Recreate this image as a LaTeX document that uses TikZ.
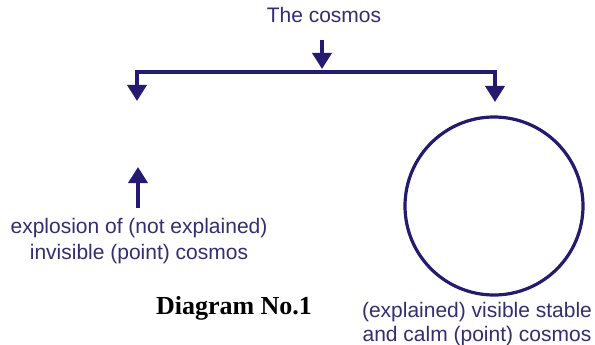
\documentclass[tikz,border=0pt]{standalone}
\usepackage{fontspec}
\setmainfont{Liberation Sans}
\newfontfamily\serifbold{Liberation Serif}
\usetikzlibrary{arrows.meta}
\definecolor{navy}{RGB}{36,26,112}
\definecolor{navytext}{RGB}{52,46,112}
\tikzset{
  conn/.style={draw=navy, line width=3.6pt},
  arr/.style={conn, -{Triangle[width=19pt,length=16pt]}},
  lbl/.style={text=navytext, font=\fontsize{21}{25}\selectfont, inner sep=0pt, anchor=base},
  captionstyle/.style={text=black, font=\serifbold\bfseries\fontsize{26}{30}\selectfont, inner sep=0pt, anchor=base}
}
\begin{document}
\begin{tikzpicture}[x=1pt,y=-1pt]
\useasboundingbox (0,0) rectangle (595,345);
\fill[white] (0,0) rectangle (595,345);
% texts
\node[lbl] (cosmos) at (324,23) {The cosmos};
\node[lbl] (expA) at (139,233) {explosion of (not explained)};
\node[lbl] (expB) at (139,259) {invisible (point) cosmos};
\node[lbl] (visA) at (477,317) {(explained) visible stable};
\node[lbl] (visB) at (477,341) {and calm (point) cosmos};
\node[captionstyle] (caption) at (234,314) {Diagram No.1};
% circle
\node[circle, draw=navy, line width=3.2pt, minimum size=178pt, inner sep=0pt] (ring) at (494,206) {};
% coordinates
\coordinate (topstart) at (322,40);
\coordinate (topend) at (322,69);
\coordinate (barL) at (137,72);
\coordinate (barR) at (495,72);
\coordinate (leftend) at (137,101);
\coordinate (rightend) at (495,102);
\coordinate (upstart) at (138,208);
\coordinate (upend) at (138,167);
% connectors
\draw[arr] (topstart) -- (topend);
\draw[conn, line cap=rect] (barL) -- (barR);
\draw[arr] (barL) -- (leftend);
\draw[arr] (barR) -- (rightend);
\draw[arr] (upstart) -- (upend);
\end{tikzpicture}
\end{document}
